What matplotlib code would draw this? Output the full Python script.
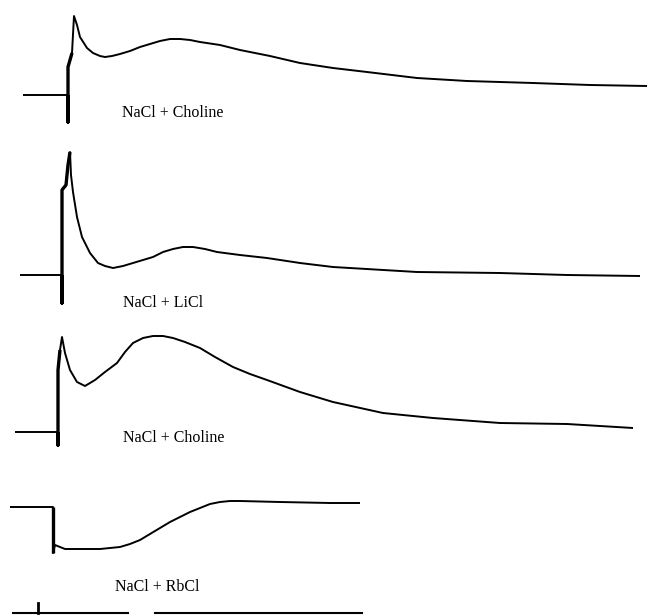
import matplotlib
matplotlib.use("Agg")
import matplotlib.pyplot as plt

# traces: time (px along the sweep) and response (px above baseline)
t1 = [23, 68, 68, 68, 72, 74, 77, 80, 87, 93, 100, 105, 112, 120, 130, 140, 150, 160, 170, 180, 190, 200,
      220, 240, 270, 300, 333, 367, 417, 467, 533, 590, 647]
r1 = [0, 0, -27, 28, 42, 79, 70, 58, 47, 42, 39, 38, 39, 41, 44, 48, 51, 54, 56, 56, 55, 53,
      50, 45, 39, 32, 27, 23, 17, 14, 12, 10, 9]

t2 = [20, 62, 62, 62, 66, 68, 70, 71, 73, 77, 82, 90, 98, 105, 113, 123, 133, 143, 153, 163, 173, 183,
      193, 205, 217, 240, 267, 300, 333, 417, 500, 567, 640]
r2 = [0, 0, -28, 85, 90, 110, 123, 100, 83, 58, 38, 22, 12, 9, 7, 9, 12, 15, 18, 23, 26, 28,
      28, 26, 23, 20, 17, 12, 8, 3, 2, 0, -1]

t3 = [15, 58, 58, 58, 60, 62, 65, 70, 77, 85, 95, 105, 117, 125, 133, 143, 153, 163, 173, 185, 200,
      215, 233, 250, 267, 300, 333, 383, 433, 500, 567, 633]
r3 = [0, 0, -13, 62, 82, 95, 79, 62, 50, 46, 52, 60, 69, 80, 89, 94, 96, 96, 94, 90, 84,
      75, 65, 58, 52, 40, 30, 19, 14, 9, 8, 4]

t4 = [10, 53, 53, 55, 65, 100, 120, 130, 140, 150, 160, 170, 180, 190, 200, 210, 220, 230, 240, 280, 330, 360]
r4 = [0, 0, -46, -38, -42, -42, -40, -37, -33, -27, -21, -15, -10, -5, -1, 3, 5, 6, 6, 5, 4, 4]

labels = ["NaCl + Choline", "NaCl + LiCl", "NaCl + Choline", "NaCl + RbCl"]

traces = [(t1, r1), (t2, r2), (t3, r3), (t4, r4)]
baselines = [95, 275, 432, 507]
label_pos = [(122, 113), (123, 303), (123, 438), (115, 587)]
n_thick = [5, 7, 5, 3]

fig = plt.figure(figsize=(6.48, 6.15), dpi=100)
ax = fig.add_axes([0, 0, 1, 1])
ax.set_xlim(0, 648)
ax.set_ylim(615, 0)
ax.axis("off")

for (t, r), b, nt in zip(traces, baselines, n_thick):
    y = [b - v for v in r]
    ax.plot(t, y, color="black", lw=1.4, solid_capstyle="butt", solid_joinstyle="round")
    # stimulus artefact drawn heavier
    ax.plot(t[1:nt], y[1:nt], color="black", lw=2.4, solid_capstyle="butt")

for lab, (x, y) in zip(labels, label_pos):
    ax.text(x, y, lab, family="Liberation Serif", fontsize=11.5,
            ha="left", va="center", color="black")

# partial trace cut off at the bottom edge
ax.plot([13, 128], [613, 613], color="black", lw=1.5)
ax.plot([155, 362], [613, 613], color="black", lw=1.5)
ax.plot([38, 38], [613, 603], color="black", lw=2)

fig.savefig("out.png", dpi=100)
